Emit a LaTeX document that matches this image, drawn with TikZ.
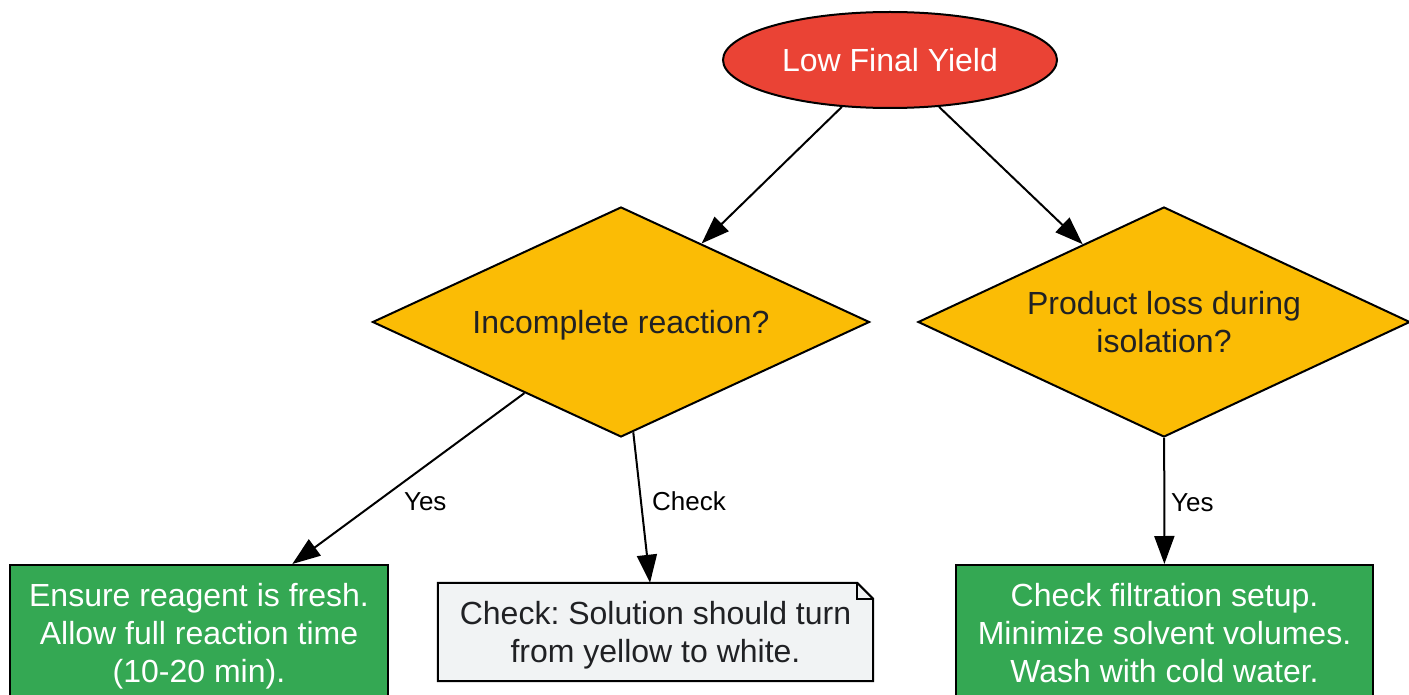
\documentclass[tikz,border=0pt]{standalone}
\usepackage{fontspec}
\setmainfont{Liberation Sans}
\usetikzlibrary{shapes.geometric,arrows.meta,backgrounds,calc}
\definecolor{gred}{HTML}{EA4335}
\definecolor{gyel}{HTML}{FBBC05}
\definecolor{ggreen}{HTML}{34A853}
\definecolor{notefill}{HTML}{F1F3F4}
\definecolor{dtext}{HTML}{202124}
\frenchspacing
\begin{document}
\begin{tikzpicture}[x=1pt,y=-1pt,
  every node/.style={font=\fontsize{32}{38}\selectfont, align=center, text depth=0pt},
  startnode/.style={ellipse, draw, line width=2pt, fill=gred, text=white, minimum width=334pt, minimum height=96pt, inner sep=0pt},
  decision/.style={diamond, draw, line width=2pt, fill=gyel, text=dtext, minimum width=497pt, minimum height=230pt, inner sep=0pt, aspect=2.16},
  action/.style={rectangle, draw, line width=2pt, fill=ggreen, text=white, minimum width=378pt, minimum height=136pt, inner sep=0pt},
  notebox/.style={rectangle, text=dtext, minimum width=435pt, minimum height=98pt, inner sep=0pt},
  arrow/.style={-{Triangle[length=28pt,width=20pt]}, line width=2pt},
  elabel/.style={font=\fontsize{26}{30}\selectfont, text=black},
  noteline/.style={line width=2pt}
]
\useasboundingbox (0,0) rectangle (1409,695);
\clip (0,0) rectangle (1409,695);
\node[startnode] (start) at (890,60) {Low Final Yield};
\node[decision] (d1) at (621,322) {Incomplete reaction?};
\node[decision, minimum width=492pt] (d2) at (1164,322) {Product loss during\\isolation?};
\node[action] (a1) at (199,633) {Ensure reagent is fresh.\\Allow full reaction time\\(10-20 min).};
\node[notebox] (note) at (655.5,632) {Check: Solution should turn\\from yellow to white.};
\node[action, minimum width=417pt] (a2) at (1164.5,633) {Check filtration setup.\\Minimize solvent volumes.\\Wash with cold water.};
\begin{scope}[on background layer]
\draw[noteline, fill=notefill] (note.north west) -- ($(note.north east)+(-16pt,0pt)$) -- ($(note.north east)+(0pt,-16pt)$) -- (note.south east) -- (note.south west) -- cycle;
\end{scope}
\draw[noteline] ($(note.north east)+(-16pt,0pt)$) -- ($(note.north east)+(-16pt,-16pt)$) -- ($(note.north east)+(0pt,-16pt)$);
\draw[arrow] (start) -- (d1);
\draw[arrow] (start) -- (d2);
\draw[arrow] (d1) -- node[elabel, pos=0.634, xshift=48pt] {Yes} (a1);
\draw[arrow] (d1) -- node[elabel, pos=0.46, xshift=48pt] {Check} (note);
\draw[arrow] (d2) -- node[elabel, pos=0.51, xshift=28pt] {Yes} (a2);
\end{tikzpicture}
\end{document}
